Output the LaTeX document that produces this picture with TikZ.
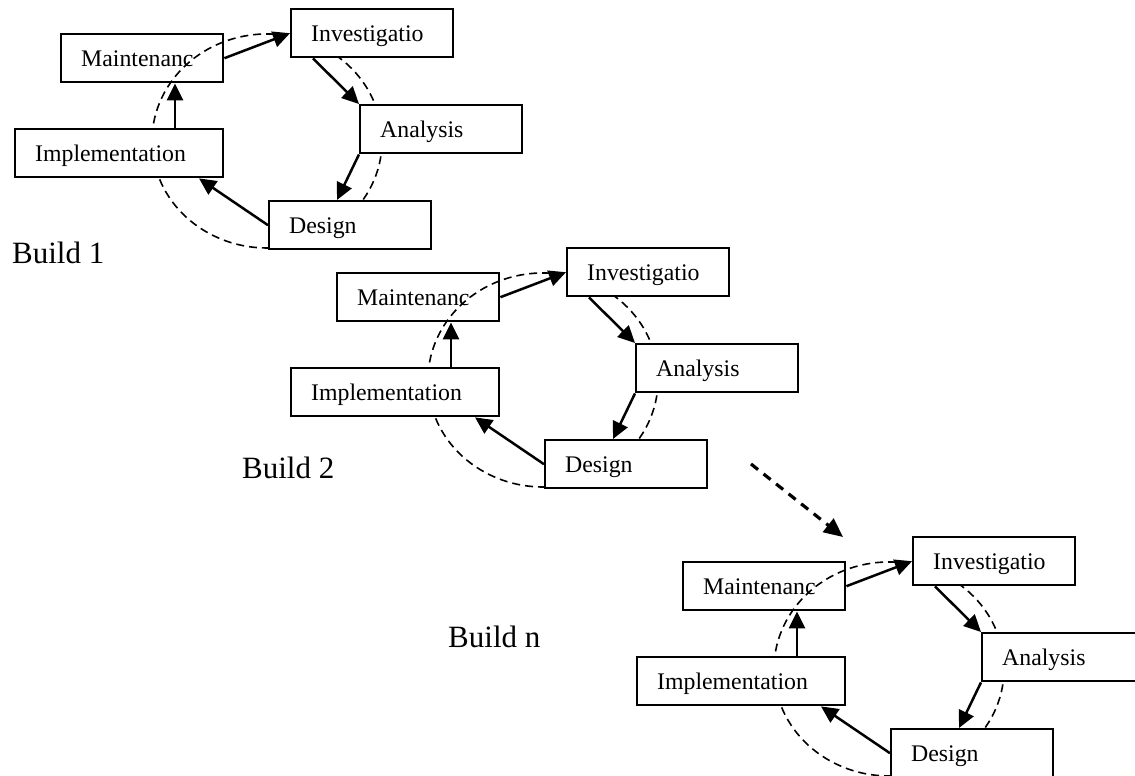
\documentclass[tikz,border=0pt]{standalone}
\usepackage{fontspec}
\setmainfont{Liberation Serif}
\usetikzlibrary{arrows.meta,calc}

\tikzset{
  stage/.style={draw, fill=white, line width=2.4pt, anchor=north west,
    minimum height=48pt, inner xsep=20pt, inner ysep=0pt,
    text height=15.8pt, text depth=0pt, align=left,
    font=\fontsize{23.8}{28}\selectfont},
  narrow/.style={stage, text width=122pt},
  wide/.style={stage, text width=168pt},
  flow/.style={line width=2.5pt, -{Triangle[length=17pt,width=16pt]}},
  cycleloop/.style={line width=1.6pt, dash pattern=on 8pt off 5pt},
  buildlabel/.style={anchor=base west, inner sep=0pt,
    font=\fontsize{31}{36}\selectfont},
  jump/.style={line width=3.2pt, dash pattern=on 9pt off 7pt,
    -{Triangle[length=19pt,width=17pt]}}
}

% one iteration of the cycle; #1 = name suffix, (#2,#3) = offset
\newcommand\cyclegroup[3]{%
  \begin{scope}[shift={(#2,#3)}]
    \node[narrow] (mnt#1) at (60,33) {Maintenanc};
    \draw[cycleloop] (324.5,48.3)
      arc[start angle=-60, end angle=281, x radius=115, y radius=107];
    \node[narrow] (inv#1) at (290,8) {Investigatio};
    \node[narrow] (ana#1) at (359,104) {Analysis};
    \node[narrow] (des#1) at (268,200) {Design};
    \node[wide] (imp#1) at (14,128) {Implementation};
    \draw[flow] (mnt#1.east) -- (inv#1.west);
    \draw[flow] ($(inv#1.south west)+(23,0)$) -- (ana#1.north west);
    \draw[flow] (ana#1.south west) -- ($(des#1.north west)+(69,0)$);
    \draw[flow] (des#1.west) -- ($(imp#1.south west)+(185,0)$);
    \draw[flow] ($(imp#1.north west)+(161,0)$) -- ($(mnt#1.south west)+(115,0)$);
  \end{scope}%
}

\begin{document}
\begin{tikzpicture}[x=1pt, y=-1pt]
  \useasboundingbox (0,0) rectangle (1135,776);

  \cyclegroup{a}{0}{0}
  \cyclegroup{b}{276}{239}
  \cyclegroup{n}{622}{528}

  \node[buildlabel] (labela) at (12,263) {Build 1};
  \node[buildlabel] (labelb) at (242,478) {Build 2};
  \node[buildlabel] (labeln) at (448,647) {Build n};

  \coordinate (jumpstart) at (751,464);
  \coordinate (jumpend) at (843,537);
  \draw[jump] (jumpstart) -- (jumpend);
\end{tikzpicture}
\end{document}
